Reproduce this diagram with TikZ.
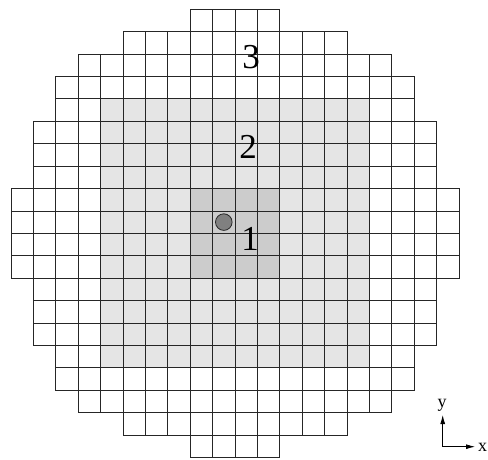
\documentclass[tikz,border=0pt]{standalone}
\usepackage{fontspec}
\setmainfont{Liberation Serif}
\usetikzlibrary{arrows.meta}
\definecolor{zonetwo}{HTML}{E5E5E5}
\definecolor{zoneone}{HTML}{CCCCCC}
\definecolor{dotfill}{HTML}{808080}
\tikzset{
  cellbox/.style={draw=black!85, line width=0.8pt},
  zonelabel/.style={font=\fontsize{35}{40}\selectfont, inner sep=0pt, anchor=base},
  axislabel/.style={font=\fontsize{18}{20}\selectfont, inner sep=0pt, anchor=base},
  axisline/.style={line width=0.8pt, -{Latex[length=9pt,width=5pt]}},
}
\begin{document}
\begin{tikzpicture}[x=1pt,y=-1pt]
\useasboundingbox (0,0) rectangle (488,460);
\def\s{22.4}
\def\ox{11}
\def\oy{9.3}
% shaded zones
\fill[zonetwo] ({\ox+4*\s},{\oy+4*\s}) rectangle ({\ox+16*\s},{\oy+16*\s});
\fill[zoneone] ({\ox+8*\s},{\oy+8*\s}) rectangle ({\ox+12*\s},{\oy+12*\s});
% grid cells
\foreach \r/\a/\b in {0/8/11,1/5/14,2/3/16,3/2/17,4/2/17,5/1/18,6/1/18,7/1/18,
  8/0/19,9/0/19,10/0/19,11/0/19,12/1/18,13/1/18,14/1/18,15/2/17,16/2/17,17/3/16,18/5/14,19/8/11}{
  \foreach \c in {\a,...,\b}{
    \draw[cellbox] ({\ox+\c*\s},{\oy+\r*\s}) rectangle ({\ox+(\c+1)*\s},{\oy+(\r+1)*\s});
  }
}
% source dot
\node[circle, draw=black!85, fill=dotfill, line width=0.8pt, minimum size=16.6pt, inner sep=0pt] (dot) at ({\ox+9.5*\s},{\oy+9.5*\s}) {};
% zone labels
\node[zonelabel] (l3) at (251,68.3) {3};
\node[zonelabel] (l2) at (248,158.3) {2};
\node[zonelabel] (l1) at (250,250) {1};
% axes
\coordinate (o) at (442.7,446.7);
\coordinate (ytip) at (442.7,415);
\coordinate (xtip) at (475,446.7);
\draw[axisline] (o) -- (ytip);
\draw[axisline] (o) -- (xtip);
\node[axislabel] (ylab) at (442,407) {y};
\node[axislabel] (xlab) at (482.5,451) {x};
\end{tikzpicture}
\end{document}
